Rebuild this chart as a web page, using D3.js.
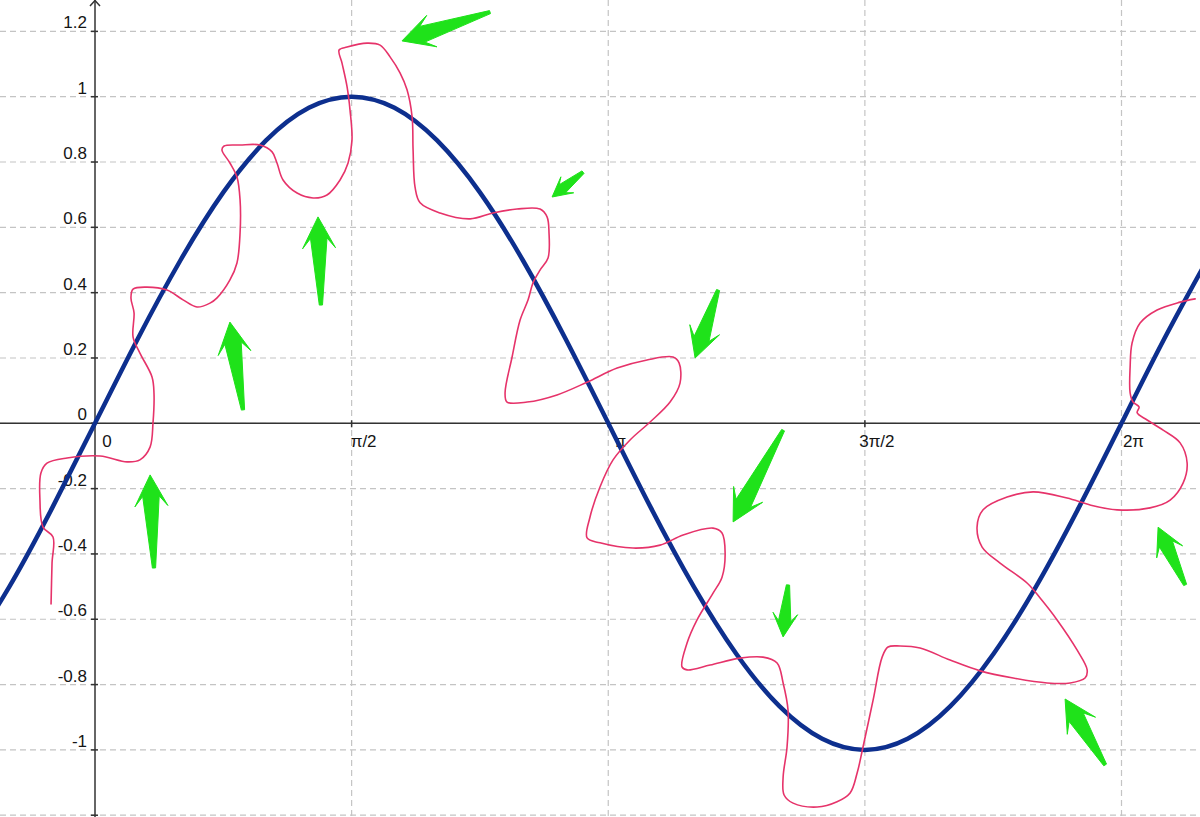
<!DOCTYPE html>
<html><head><meta charset="utf-8">
<script src="https://cdn.jsdelivr.net/npm/d3@7"></script>
<style>html,body{margin:0;padding:0;background:#fff;overflow:hidden}</style>
</head><body><svg id="chart" width="1200" height="817"></svg>
<script>
// ---- data (x in radians, y in units) ----
const sineX = [-0.785,-0.524,-0.262,0,0.262,0.524,0.785,1.047,1.309,1.571,1.833,2.094,2.356,2.618,2.880,3.142,3.403,3.665,3.927,4.189,4.451,4.712,4.974,5.236,5.498,5.760,6.021,6.283,6.545,6.807];
const sineY = [-0.707,-0.5,-0.259,0,0.259,0.5,0.707,0.866,0.966,1,0.966,0.866,0.707,0.5,0.259,0,-0.259,-0.5,-0.707,-0.866,-0.966,-1,-0.966,-0.866,-0.707,-0.5,-0.259,0,0.259,0.5];

const sketchX = [-0.269,-0.263,-0.257,-0.318,-0.337,-0.331,-0.294,-0.171,0.031,0.196,0.275,0.337,0.355,0.361,0.349,0.275,0.233,0.239,0.220,0.233,0.318,0.441,0.539,0.624,0.704,0.747,0.826,0.869,0.888,0.888,0.869,0.826,0.777,0.790,0.888,1.010,1.084,1.114,1.151,1.237,1.335,1.420,1.500,1.549,1.573,1.561,1.543,1.512,1.494,1.543,1.665,1.745,1.806,1.867,1.910,1.941,1.947,1.959,1.990,2.112,2.296,2.436,2.583,2.724,2.767,2.779,2.773,2.724,2.681,2.651,2.602,2.553,2.510,2.522,2.645,2.828,3.012,3.196,3.379,3.538,3.575,3.581,3.520,3.398,3.275,3.171,3.091,3.030,3.012,3.091,3.293,3.459,3.600,3.783,3.838,3.857,3.838,3.783,3.685,3.624,3.593,3.624,3.765,3.948,4.089,4.175,4.212,4.242,4.236,4.212,4.218,4.273,4.420,4.542,4.622,4.665,4.701,4.763,4.818,4.854,4.928,5.050,5.234,5.418,5.620,5.828,5.969,6.060,6.073,6.011,5.889,5.785,5.705,5.540,5.430,5.399,5.436,5.583,5.742,5.950,6.091,6.256,6.458,6.581,6.660,6.685,6.642,6.538,6.440,6.379,6.391,6.354,6.336,6.336,6.348,6.397,6.501,6.642,6.734];
const sketchY = [-0.553,-0.428,-0.348,-0.318,-0.235,-0.152,-0.122,-0.106,-0.100,-0.118,-0.112,-0.073,0.001,0.093,0.142,0.215,0.264,0.338,0.384,0.411,0.417,0.408,0.378,0.356,0.368,0.384,0.439,0.491,0.583,0.684,0.754,0.797,0.837,0.849,0.852,0.852,0.831,0.797,0.745,0.705,0.690,0.699,0.745,0.797,0.867,0.959,1.030,1.103,1.143,1.152,1.164,1.158,1.122,1.073,1.021,0.938,0.837,0.723,0.675,0.644,0.626,0.644,0.656,0.656,0.632,0.583,0.506,0.469,0.430,0.378,0.316,0.203,0.093,0.065,0.065,0.087,0.126,0.169,0.194,0.203,0.185,0.123,0.065,0.004,-0.051,-0.112,-0.195,-0.287,-0.351,-0.366,-0.382,-0.373,-0.342,-0.321,-0.336,-0.397,-0.471,-0.520,-0.602,-0.673,-0.746,-0.755,-0.740,-0.719,-0.716,-0.734,-0.795,-0.878,-0.991,-1.083,-1.138,-1.163,-1.175,-1.159,-1.132,-1.071,-0.991,-0.847,-0.716,-0.685,-0.682,-0.688,-0.725,-0.758,-0.780,-0.795,-0.795,-0.780,-0.755,-0.694,-0.602,-0.535,-0.489,-0.428,-0.379,-0.318,-0.265,-0.226,-0.210,-0.229,-0.250,-0.265,-0.259,-0.235,-0.183,-0.122,-0.060,-0.021,0.010,0.032,0.050,0.065,0.093,0.172,0.246,0.307,0.347,0.371,0.381];

const arrowTailX = [2.418,2.987,1.383,0.906,0.361,3.814,4.212,4.242,6.183,6.673];
const arrowTailY = [1.259,0.769,0.362,0.041,-0.443,0.408,-0.021,-0.495,-1.046,-0.495];
const arrowTipX  = [1.879,2.798,1.365,0.826,0.337,3.673,3.906,4.212,5.938,6.507];
const arrowTipY  = [1.171,0.693,0.632,0.310,-0.158,0.200,-0.302,-0.654,-0.844,-0.318];

const xTickValues = [0, 1.5708, 3.1416, 4.7124, 6.2832];
const xTickLabels = ["0", "π/2", "π", "3π/2", "2π"];
const yGridValues = [1.2, 1, 0.8, 0.6, 0.4, 0.2, 0, -0.2, -0.4, -0.6, -0.8, -1, -1.2];
const yTickLabels = ["1.2", "1", "0.8", "0.6", "0.4", "0.2", "0", "-0.2", "-0.4", "-0.6", "-0.8", "-1"];

// ---- drawing ----
const W = 1200, H = 817;
const svg = d3.select("#chart");
const x = d3.scaleLinear().domain([0, 6.2832]).range([95, 1121.5]);
const y = d3.scaleLinear().domain([-1, 1]).range([749.9, 96.7]);
const x0 = x(0), y0 = y(0);

// grid
const grid = svg.append("g").attr("stroke", "#c4c4c4").attr("stroke-width", 1.2).attr("stroke-dasharray", "6,4");
grid.selectAll("line.h").data(yGridValues).join("line").attr("class", "h")
  .attr("x1", 0).attr("x2", W).attr("y1", d => y(d)).attr("y2", d => y(d));
grid.selectAll("line.v").data(xTickValues.filter(d => d !== 0)).join("line").attr("class", "v")
  .attr("x1", d => x(d)).attr("x2", d => x(d)).attr("y1", 0).attr("y2", H);

// axes
const ax = svg.append("g").attr("stroke", "#333").attr("stroke-width", 1.5).attr("fill", "none");
ax.append("line").attr("x1", 0).attr("x2", W).attr("y1", y0).attr("y2", y0);
ax.append("line").attr("x1", x0).attr("x2", x0).attr("y1", 0).attr("y2", H);
ax.append("path").attr("d", `M${x0-5},${6}L${x0},${0.5}L${x0+5},${6}`);
ax.selectAll("line.yt").data(yGridValues).join("line").attr("class", "yt")
  .attr("x1", x0 - 4).attr("x2", x0 + 3).attr("y1", d => y(d)).attr("y2", d => y(d));
ax.selectAll("line.xt").data(xTickValues).join("line").attr("class", "xt")
  .attr("x1", d => x(d)).attr("x2", d => x(d)).attr("y1", y0 - 3).attr("y2", y0 + 4);

// labels
const lab = svg.append("g").attr("font-family", "'Liberation Sans', Arial, sans-serif")
  .attr("font-size", 17).attr("fill", "#151515");
lab.selectAll("text.y").data(yTickLabels).join("text").attr("class", "y")
  .attr("x", x0 - 8).attr("y", (d, i) => y(yGridValues[i]) - 3)
  .attr("text-anchor", "end").text(d => d);
lab.selectAll("text.x").data(xTickLabels).join("text").attr("class", "x")
  .attr("x", (d, i) => x(xTickValues[i]) + 12).attr("y", y0 + 24)
  .attr("text-anchor", "middle").text(d => d);

// sine curve
const sinePts = sineX.map((v, i) => [v, sineY[i]]);
svg.append("path").datum(sinePts)
  .attr("d", d3.line().x(d => x(d[0])).y(d => y(d[1])).curve(d3.curveNatural))
  .attr("fill", "none").attr("stroke", "#0d2f8e").attr("stroke-width", 4.5)
  .attr("stroke-linecap", "round");

// hand-drawn sketch
const sketchPts = sketchX.map((v, i) => [v, sketchY[i]]);
svg.append("path").datum(sketchPts)
  .attr("d", d3.line().x(d => x(d[0])).y(d => y(d[1])).curve(d3.curveCatmullRom.alpha(0.5)))
  .attr("fill", "none").attr("stroke", "#e6336a").attr("stroke-width", 1.6)
  .attr("stroke-linejoin", "round").attr("stroke-linecap", "round");

// arrows
function arrowPath(ax0, ay0, ax1, ay1) {
  const dx = ax1 - ax0, dy = ay1 - ay0, L = Math.hypot(dx, dy);
  const ux = dx / L, uy = dy / L, nx = -uy, ny = ux;
  const w = Math.min(16.5, 3.5 + 0.17 * L), h = 1.9 * w, s = 0.5 * w;
  const pts = [[0, -1.6], [L - 0.68 * h, -s], [L - h, -w], [L, 0], [L - h, w], [L - 0.68 * h, s], [0, 1.6]];
  return "M" + pts.map(([a, b]) => (ax0 + ux * a + nx * b).toFixed(1) + "," + (ay0 + uy * a + ny * b).toFixed(1)).join("L") + "Z";
}
svg.append("g").selectAll("path").data(arrowTailX.map((v, i) => i)).join("path")
  .attr("d", i => arrowPath(x(arrowTailX[i]), y(arrowTailY[i]), x(arrowTipX[i]), y(arrowTipY[i])))
  .attr("fill", "#1fe21a").attr("stroke", "#1fe21a").attr("stroke-width", 1).attr("stroke-linejoin", "round");
</script>
</body></html>
